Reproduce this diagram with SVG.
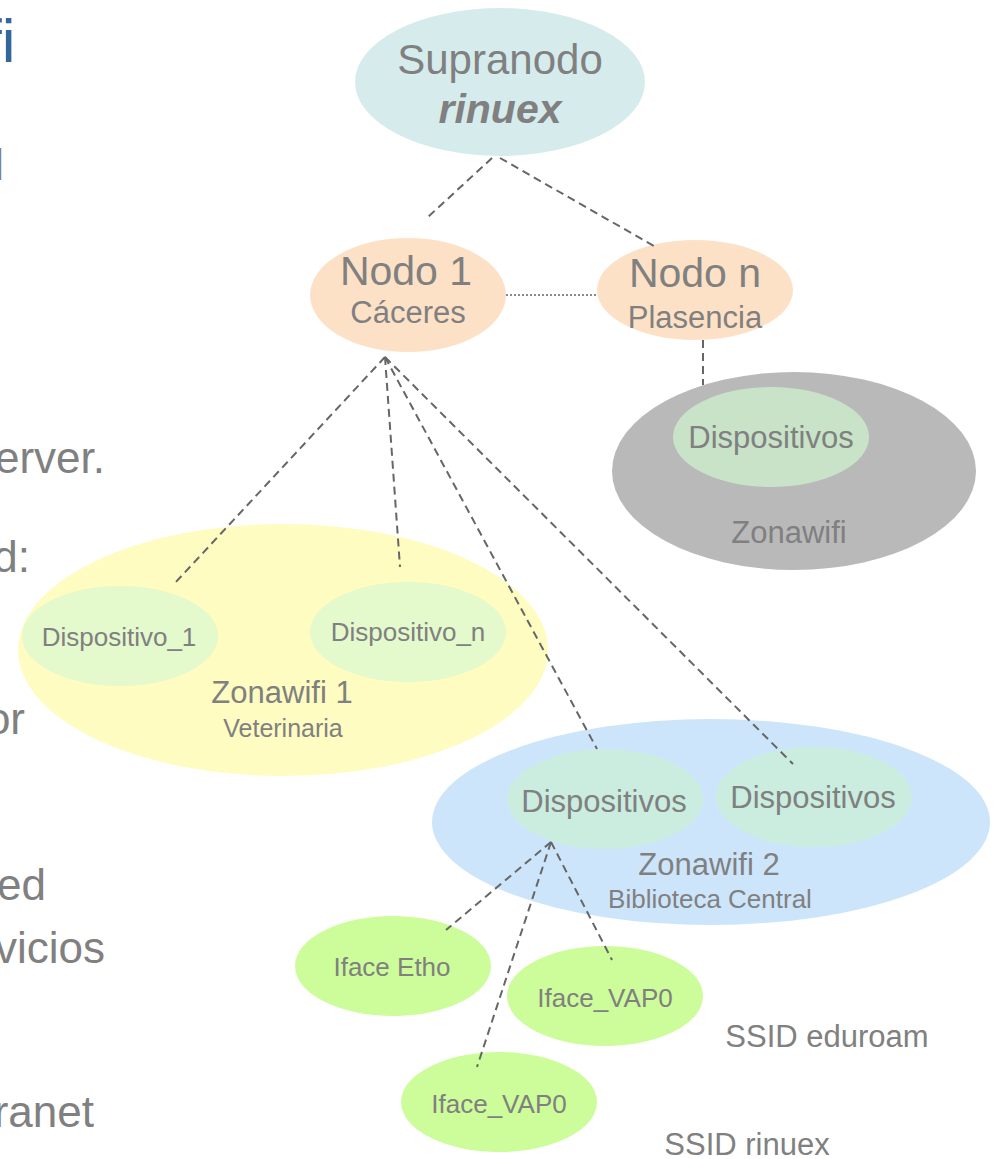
<svg xmlns="http://www.w3.org/2000/svg" width="998" height="1159" viewBox="0 0 998 1159">
<style>
text{font-family:"Liberation Sans",Arial,sans-serif;fill:#808080}
.c{text-anchor:middle}
.e{text-anchor:end}
.body{font-size:44px}
.big{font-size:41px}
.mid{font-size:31px}
.sm{font-size:26px}
.conn line{stroke:#666;stroke-width:2;stroke-dasharray:8 5;fill:none}
.conn line.dot{stroke:#8a8a8a;stroke-dasharray:2 2}
</style>
<rect width="998" height="1159" fill="#fff"/>
<g id="side-text">
<text x="15.6" y="62" class="e" style="font-size:62px;fill:#336699">fi</text>
<text x="4" y="180" class="e body">l</text>
<text x="105" y="473" class="e body">erver.</text>
<text x="30" y="572" class="e body">d:</text>
<text x="25" y="734" class="e body">or</text>
<text x="46" y="900" class="e body">ed</text>
<text x="105" y="963" class="e body">vicios</text>
<text x="94" y="1127" class="e body">ranet</text>
</g>
<g id="supranodo">
<ellipse cx="500" cy="82" rx="145" ry="74" fill="#d6ecec"/>
<text x="500" y="74" class="c" style="font-size:42px">Supranodo</text>
<text x="500" y="123" class="c" style="font-size:41px;font-weight:bold;font-style:italic">rinuex</text>
</g>
<g id="nodo1">
<ellipse cx="408" cy="295" rx="98" ry="57" fill="#fde1c6"/>
<text x="406" y="285" class="c big">Nodo 1</text>
<text x="408" y="323" class="c mid">Cáceres</text>
</g>
<g id="nodon">
<ellipse cx="695" cy="290" rx="98" ry="50" fill="#fde1c6"/>
<text x="695" y="287" class="c big">Nodo n</text>
<text x="695" y="328" class="c mid">Plasencia</text>
</g>
<g id="zonawifi">
<ellipse cx="794" cy="471" rx="182" ry="99" fill="#b9b9b9"/>
<text x="789" y="543" class="c mid">Zonawifi</text>
</g>
<g id="zonawifi-dispositivos">
<ellipse cx="771" cy="437" rx="98" ry="50" fill="#c8e3c8"/>
<text x="771" y="448" class="c mid">Dispositivos</text>
</g>
<g id="zonawifi1">
<ellipse cx="283" cy="650" rx="265" ry="126" fill="#fefcc0"/>
<text x="282" y="703" class="c mid">Zonawifi 1</text>
<text x="283" y="737" class="c" style="font-size:25px">Veterinaria</text>
</g>
<g id="dispositivo1">
<ellipse cx="120" cy="636" rx="98" ry="50" fill="#e4f9cc"/>
<text x="119" y="646" class="c sm">Dispositivo_1</text>
</g>
<g id="dispositivon">
<ellipse cx="408" cy="632" rx="98" ry="50" fill="#e4f9cc"/>
<text x="408" y="641" class="c sm">Dispositivo_n</text>
</g>
<g id="zonawifi2">
<ellipse cx="711" cy="822" rx="279" ry="103" fill="#cde5fb"/>
<text x="709" y="875" class="c mid">Zonawifi 2</text>
<text x="710" y="908" class="c sm">Biblioteca Central</text>
</g>
<g id="zw2-dispositivos-a">
<ellipse cx="605" cy="799" rx="98" ry="50" fill="#caede0"/>
<text x="604" y="812" class="c mid">Dispositivos</text>
</g>
<g id="zw2-dispositivos-b">
<ellipse cx="814" cy="797" rx="98" ry="50" fill="#caede0"/>
<text x="813" y="808" class="c mid">Dispositivos</text>
</g>
<g id="iface-etho">
<ellipse cx="393" cy="966" rx="98" ry="50" fill="#cdfc9a"/>
<text x="392" y="976" class="c sm">Iface Etho</text>
</g>
<g id="iface-vap0-a">
<ellipse cx="605" cy="996" rx="98" ry="50" fill="#cdfc9a"/>
<text x="605" y="1007" class="c sm">Iface_VAP0</text>
</g>
<g id="iface-vap0-b">
<ellipse cx="499" cy="1102" rx="98" ry="50" fill="#cdfc9a"/>
<text x="499" y="1113" class="c sm">Iface_VAP0</text>
</g>
<g id="ssid-eduroam">
<text x="827" y="1047" class="c mid">SSID eduroam</text>
</g>
<g id="ssid-rinuex">
<text x="747" y="1155" class="c mid">SSID rinuex</text>
</g>
<g id="connectors" class="conn">
<line x1="492" y1="158" x2="428" y2="217"/>
<line x1="500" y1="158" x2="654" y2="246"/>
<line class="dot" x1="506" y1="295" x2="597" y2="295"/>
<line x1="703" y1="340" x2="703" y2="385"/>
<line x1="385" y1="357" x2="175" y2="583"/>
<line x1="385" y1="357" x2="400" y2="567"/>
<line x1="385" y1="357" x2="597" y2="749"/>
<line x1="385" y1="357" x2="793" y2="764"/>
<line x1="551" y1="842" x2="446" y2="930"/>
<line x1="551" y1="842" x2="477" y2="1067"/>
<line x1="551" y1="842" x2="612" y2="960"/>
</g>
</svg>
